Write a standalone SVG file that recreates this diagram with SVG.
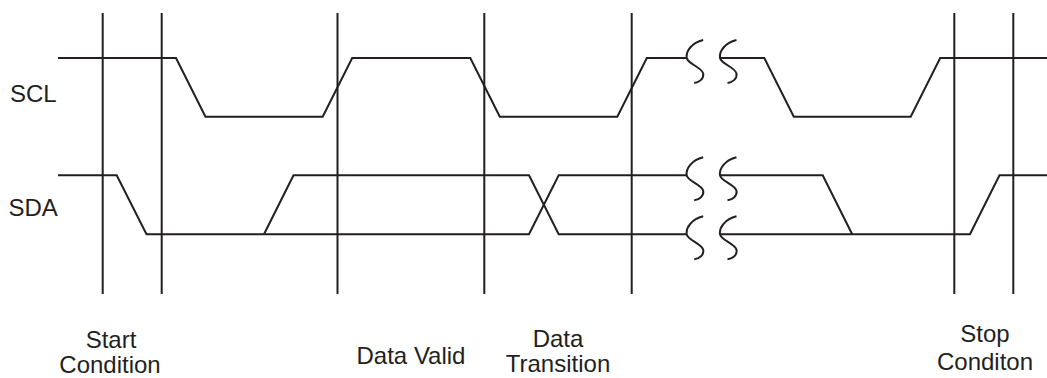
<svg xmlns="http://www.w3.org/2000/svg" width="1047" height="378" viewBox="0 0 1047 378">
  <style>
    .ln { fill: none; stroke: #231f20; stroke-width: 2; stroke-linejoin: miter; }
    .lbl { font-family: "Liberation Sans", Arial, sans-serif; font-size: 24px; fill: #231f20; }
    .c { text-anchor: middle; }
  </style>
  <defs>
    <path id="brk" class="ln" d="M 16.5,-18 C 5,-15 -1,-7 0,0 C 1,6 15,9 16.5,15.5 C 17.5,21 12,24.5 7.5,25"/>
  </defs>
  <rect width="1047" height="378" fill="#ffffff"/>

  <g id="guides">
    <line class="ln" x1="102.7" y1="13" x2="102.7" y2="294"/>
    <line class="ln" x1="161.7" y1="13" x2="161.7" y2="294"/>
    <line class="ln" x1="337.5" y1="13" x2="337.5" y2="294"/>
    <line class="ln" x1="484.3" y1="13" x2="484.3" y2="294"/>
    <line class="ln" x1="631.7" y1="13" x2="631.7" y2="294"/>
    <line class="ln" x1="954.3" y1="13" x2="954.3" y2="294"/>
    <line class="ln" x1="1013.3" y1="13" x2="1013.3" y2="294"/>
  </g>

  <g id="scl">
    <path class="ln" d="M 58,58 H 176 L 205.5,116.7 H 322.7 L 352.2,58 H 470.3 L 499.8,116.7 H 617.3 L 646.8,58 H 686.7"/>
    <path class="ln" d="M 720,58 H 764.3 L 793.8,116.7 H 910.7 L 940.2,58 H 1047"/>
    <use href="#brk" x="686.7" y="58"/>
    <use href="#brk" x="720" y="58"/>
  </g>

  <g id="sda">
    <path class="ln" d="M 58,175.3 H 116.7 L 146.5,234.3 H 529 L 558.7,175.3 H 686.7"/>
    <path class="ln" d="M 264,234.3 L 293.5,175.3 H 529 L 558.7,234.3 H 686.7"/>
    <path class="ln" d="M 720,175.3 H 822.7 L 852.2,234.3"/>
    <path class="ln" d="M 720,234.3 H 970 L 999.5,175.3 H 1047"/>
    <use href="#brk" x="686.7" y="175.3"/>
    <use href="#brk" x="720" y="175.3"/>
    <use href="#brk" x="686.7" y="234.3"/>
    <use href="#brk" x="720" y="234.3"/>
  </g>

  <g id="labels">
    <text class="lbl" x="10" y="101.5">SCL</text>
    <text class="lbl" x="8.5" y="216">SDA</text>
    <text class="lbl c" x="111" y="347.5">Start</text>
    <text class="lbl c" x="110" y="372.5">Condition</text>
    <text class="lbl c" x="411" y="363.5">Data Valid</text>
    <text class="lbl c" x="558" y="346.5">Data</text>
    <text class="lbl c" x="558" y="372">Transition</text>
    <text class="lbl c" x="985" y="341.5">Stop</text>
    <text class="lbl c" x="985" y="370">Conditon</text>
  </g>
</svg>
